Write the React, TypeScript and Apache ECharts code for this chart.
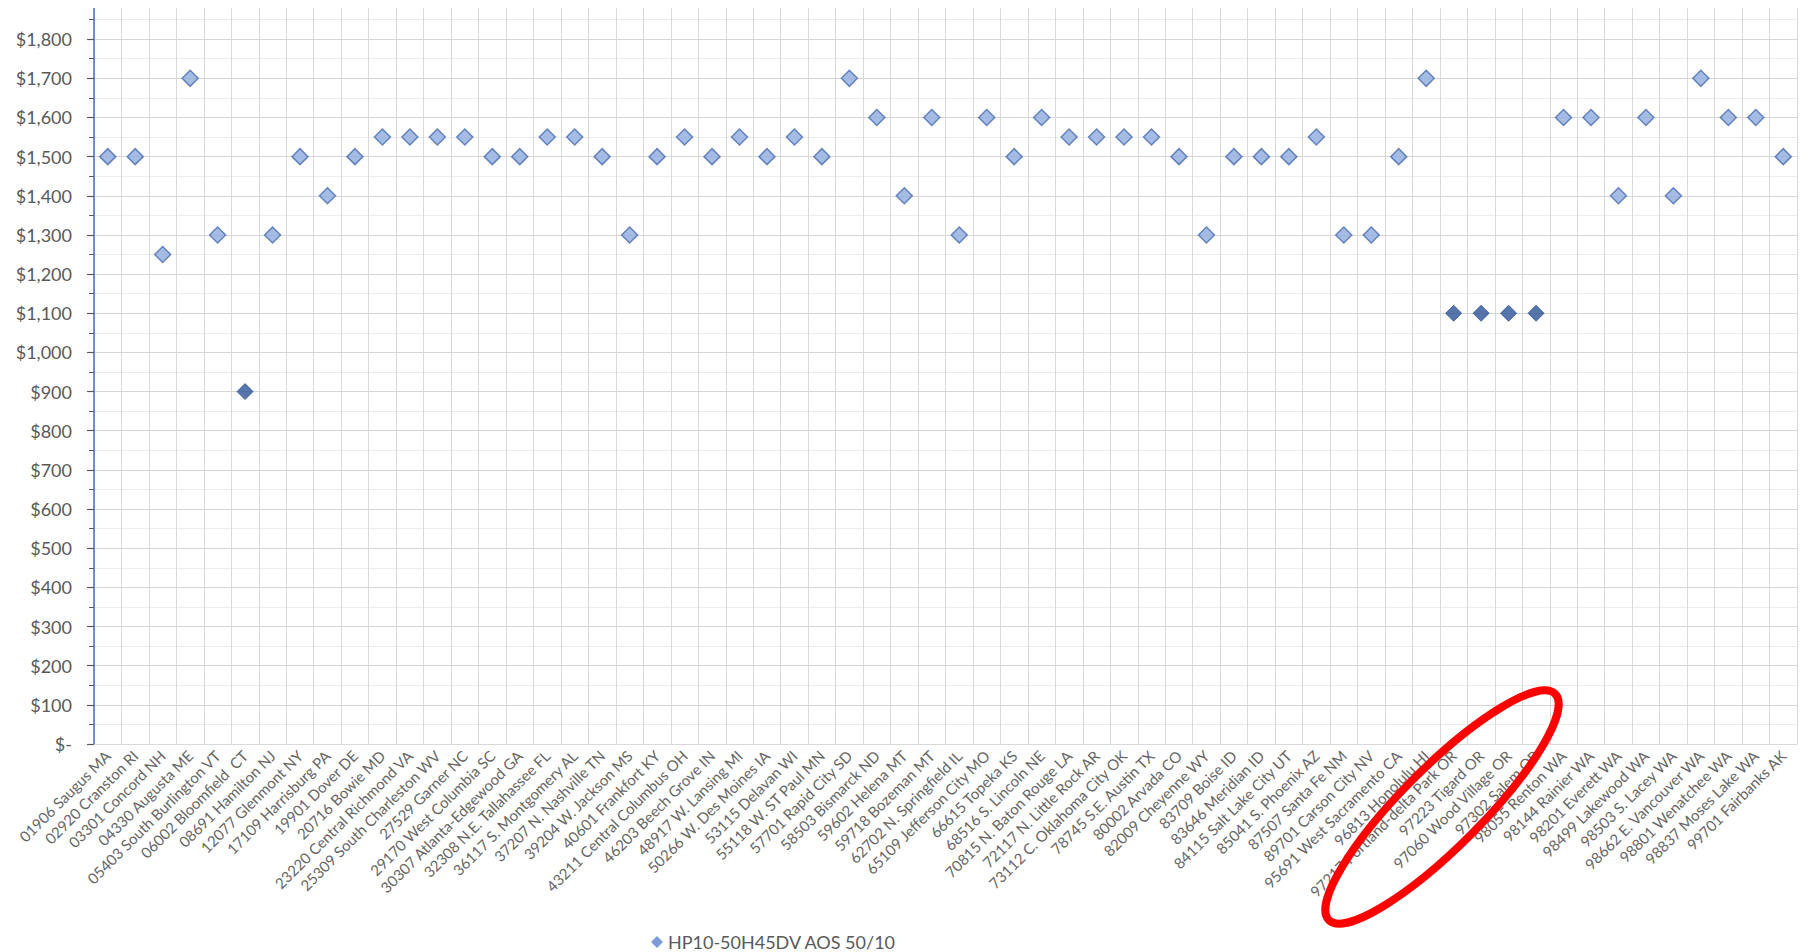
import React, { useEffect, useRef } from "react";
import * as echarts from "echarts";

// Store locations (ZIP + city + state)
const locations: string[] = [
  "01906 Saugus MA",
  "02920 Cranston RI",
  "03301 Concord NH",
  "04330 Augusta ME",
  "05403 South Burlington VT",
  "06002 Bloomfield  CT",
  "08691 Hamilton NJ",
  "12077 Glenmont NY",
  "17109 Harrisburg PA",
  "19901 Dover DE",
  "20716 Bowie MD",
  "23220 Central Richmond VA",
  "25309 South Charleston WV",
  "27529 Garner NC",
  "29170 West Columbia SC",
  "30307 Atlanta-Edgewood GA",
  "32308 N.E. Tallahassee FL",
  "36117 S. Montgomery AL",
  "37207 N. Nashville TN",
  "39204 W. Jackson MS",
  "40601 Frankfort KY",
  "43211 Central Columbus OH",
  "46203 Beech Grove IN",
  "48917 W. Lansing MI",
  "50266 W. Des Moines IA",
  "53115 Delavan WI",
  "55118 W. ST Paul MN",
  "57701 Rapid City SD",
  "58503 Bismarck ND",
  "59602 Helena MT",
  "59718 Bozeman MT",
  "62702 N. Springfield IL",
  "65109 Jefferson City MO",
  "66615 Topeka KS",
  "68516 S. Lincoln NE",
  "70815 N. Baton Rouge LA",
  "72117 N. Little Rock AR",
  "73112 C. Oklahoma City OK",
  "78745 S.E. Austin TX",
  "80002 Arvada CO",
  "82009 Cheyenne WY",
  "83709 Boise ID",
  "83646 Meridian ID",
  "84115 Salt Lake City UT",
  "85041 S. Phoenix AZ",
  "87507 Santa Fe NM",
  "89701 Carson City NV",
  "95691 West Sacramento CA",
  "96813 Honolulu HI",
  "97217 Portland-delta Park OR",
  "97223 Tigard OR",
  "97060 Wood Village OR",
  "97302 Salem OR",
  "98055 Renton WA",
  "98144 Rainier WA",
  "98201 Everett WA",
  "98499 Lakewood WA",
  "98503 S. Lacey WA",
  "98662 E. Vancouver WA",
  "98801 Wenatchee WA",
  "98837 Moses Lake WA",
  "99701 Fairbanks AK",
];

// Price of the HP10-50H45DV AOS 50/10 at each location (USD)
const prices: number[] = [
  1500, 1500, 1250, 1700, 1300, 900, 1300, 1500, 1400, 1500,
  1550, 1550, 1550, 1550, 1500, 1500, 1550, 1550, 1500, 1300,
  1500, 1550, 1500, 1550, 1500, 1550, 1500, 1700, 1600, 1400,
  1600, 1300, 1600, 1500, 1600, 1550, 1550, 1550, 1550, 1500,
  1300, 1500, 1500, 1500, 1550, 1300, 1300, 1500, 1700, 1100,
  1100, 1100, 1100, 1600, 1600, 1400, 1600, 1400, 1700, 1600,
  1600, 1500,
];

// Locations whose price point is shown in the darker colour
const lowPriceLocations: string[] = [
  "06002 Bloomfield  CT",
  "97217 Portland-delta Park OR",
  "97223 Tigard OR",
  "97060 Wood Village OR",
  "97302 Salem OR",
];

const seriesName = "HP10-50H45DV AOS 50/10";

// Y axis range and step
const yMin = 0;
const yMax = 1900;
const yStep = 100;

const FONT = "Lato, 'Open Sans', 'Liberation Sans', sans-serif";

function formatDollar(v: number): string {
  if (v === 0) return "$-";
  return "$" + v.toLocaleString("en-US");
}

export default function App() {
  const ref = useRef<HTMLDivElement>(null);

  useEffect(() => {
    if (!ref.current) return;
    const chart = echarts.init(ref.current, undefined, { renderer: "svg" });

    const data = prices.map((p, i) => {
      const dark = lowPriceLocations.includes(locations[i]);
      return {
        value: p,
        itemStyle: dark
          ? { color: "#2A5296", borderColor: "#2A5296", borderWidth: 1 }
          : { color: "#8EACDE", borderColor: "#4A6DB2", borderWidth: 1.5 },
      };
    });

    chart.setOption({
      animation: false,
      backgroundColor: "#ffffff",
      textStyle: { fontFamily: FONT },
      grid: { left: 94, right: 5, top: -3, bottom: 208, containLabel: false },
      legend: {
        left: 646,
        top: 928,
        icon: "diamond",
        itemWidth: 12,
        itemHeight: 12,
        itemGap: 8,
        textStyle: { fontSize: 18, color: "#595959", fontFamily: FONT },
        data: [{ name: seriesName, itemStyle: { color: "#5B82CE", borderWidth: 0 } }],
      },
      xAxis: {
        type: "category",
        data: locations,
        boundaryGap: true,
        axisLine: { show: true, lineStyle: { color: "#D9D9D9", width: 1 } },
        axisTick: { show: false },
        splitLine: { show: true, interval: 0, lineStyle: { color: "#D9D9D9", width: 1 } },
        axisLabel: {
          interval: 0,
          rotate: 45,
          margin: 9,
          fontSize: 15,
          color: "#666666",
          fontFamily: FONT,
        },
      },
      yAxis: {
        type: "value",
        min: yMin,
        max: yMax,
        interval: yStep,
        axisLine: { show: true, lineStyle: { color: "#4472C4", width: 1.5 } },
        axisTick: { show: true, length: 7, lineStyle: { color: "#595959", width: 1.2 } },
        minorTick: { show: true, splitNumber: 2, length: 5, lineStyle: { color: "#595959", width: 1 } },
        splitLine: { show: true, lineStyle: { color: "#D6D6D6", width: 1 } },
        minorSplitLine: { show: true, lineStyle: { color: "#ECECEC", width: 1 } },
        axisLabel: {
          margin: 22,
          fontSize: 18,
          color: "#595959",
          fontFamily: FONT,
          formatter: (v: number) => (v >= 1900 ? "" : formatDollar(v)),
        },
      },
      series: [
        {
          name: seriesName,
          type: "scatter",
          symbol: "diamond",
          symbolSize: 16,
          data,
          z: 5,
        },
      ],
      graphic: [
        // trims the plot area above its upper edge
        {
          type: "rect",
          left: 0,
          top: 0,
          shape: { x: 0, y: 0, width: 1802, height: 8 },
          style: { fill: "#ffffff" },
          z: 100,
        },
        // red ring around the Oregon locations
        {
          type: "ellipse",
          x: 1442,
          y: 807,
          rotation: Math.PI / 4,
          shape: { cx: 0, cy: 0, rx: 160, ry: 40 },
          style: { fill: "none", stroke: "#FF0000", lineWidth: 8 },
          z: 100,
        },
      ],
    });

    return () => chart.dispose();
  }, []);

  return (
    <div
      ref={ref}
      style={{ position: "fixed", left: 0, top: 0, width: 1802, height: 952, background: "#fff" }}
    />
  );
}
